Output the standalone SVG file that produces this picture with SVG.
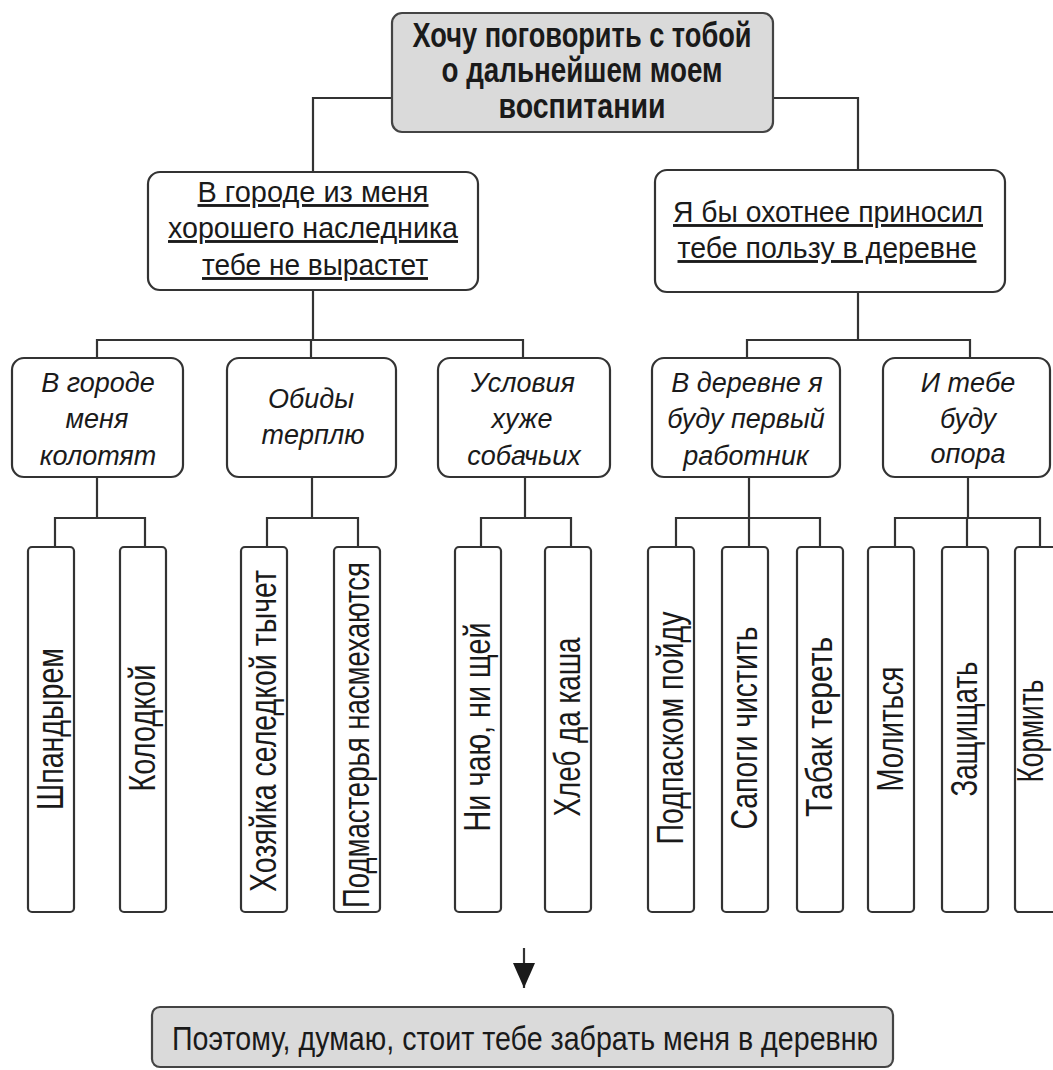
<svg xmlns="http://www.w3.org/2000/svg" width="1053" height="1070" viewBox="0 0 1053 1070">
<style>
.box{fill:#ffffff;stroke:#333333;stroke-width:2.2}
.gbox{fill:#dadada;stroke:#444444;stroke-width:2.2}
.leaf{fill:#ffffff;stroke:#333333;stroke-width:2.2}
.ln{fill:none;stroke:#333333;stroke-width:2.2}
text{font-family:"Liberation Sans","Arial",sans-serif;fill:#1a1a1a;text-anchor:middle}
.t0{font-size:30px;font-weight:bold}
.t1{font-size:27px;text-decoration:underline}
.t2{font-size:27px;font-style:italic}
.t3{font-size:33px}
.t4{font-size:29px}
</style>
<defs>
<marker id="ah" markerWidth="25" markerHeight="22" refX="25" refY="11" orient="auto" markerUnits="userSpaceOnUse" viewBox="0 0 25 22">
<path d="M0,0 L25,11 L0,22 Z" fill="#1a1a1a"/>
</marker>
</defs>

<g id="connectors">
<path class="ln" d="M392,98 H313 V172"/>
<path class="ln" d="M773,98 H858 V170"/>
<path class="ln" d="M313,290 V340 M97,358 V340 H523 V358 M311,340 V358"/>
<path class="ln" d="M858,292 V340 M747,358 V340 H970 V358"/>
<path class="ln" d="M97,477 V518 M55,547 V518 H145 V547"/>
<path class="ln" d="M312,477 V518 M267,547 V518 H358 V547"/>
<path class="ln" d="M525,477 V518 M481,547 V518 H571 V547"/>
<path class="ln" d="M749,477 V518 M676,547 V518 H820 V547 M749,518 V547"/>
<path class="ln" d="M968,477 V518 M895,547 V518 H1040 V547 M967,518 V547"/>
<line class="ln" x1="524" y1="948" x2="524" y2="988" marker-end="url(#ah)"/>
</g>

<g id="root">
<rect class="gbox" x="392" y="13" width="381" height="119" rx="10"/>
<text class="t0" transform="translate(582,47) scale(1,1.15)" textLength="339" lengthAdjust="spacingAndGlyphs">Хочу поговорить с тобой</text>
<text class="t0" transform="translate(582,82) scale(1,1.15)" textLength="281" lengthAdjust="spacingAndGlyphs">о дальнейшем моем</text>
<text class="t0" transform="translate(582,118) scale(1,1.15)" textLength="167" lengthAdjust="spacingAndGlyphs">воспитании</text>
</g>

<g id="city">
<rect class="box" x="148" y="172" width="330" height="118" rx="12"/>
<text class="t1" transform="translate(313,202) scale(1,1.06)" textLength="231" lengthAdjust="spacingAndGlyphs">В городе из меня</text>
<text class="t1" transform="translate(313,238) scale(1,1.06)" textLength="290" lengthAdjust="spacingAndGlyphs">хорошего наследника</text>
<text class="t1" transform="translate(315,275) scale(1,1.06)" textLength="226" lengthAdjust="spacingAndGlyphs">тебе не вырастет</text>
</g>

<g id="village">
<rect class="box" x="655" y="170" width="350" height="122" rx="12"/>
<text class="t1" transform="translate(828,222) scale(1,1.06)" textLength="310" lengthAdjust="spacingAndGlyphs">Я бы охотнее приносил</text>
<text class="t1" transform="translate(827,258) scale(1,1.06)" textLength="299" lengthAdjust="spacingAndGlyphs">тебе пользу в деревне</text>
</g>

<g id="beaten">
<rect class="box" x="12" y="358" width="171" height="119" rx="12"/>
<text class="t2" x="98" y="392">В городе</text>
<text class="t2" x="97" y="428">меня</text>
<text class="t2" x="98" y="465">колотят</text>
</g>

<g id="insults">
<rect class="box" x="227" y="358" width="169" height="119" rx="12"/>
<text class="t2" x="311" y="408">Обиды</text>
<text class="t2" x="313" y="444">терплю</text>
</g>

<g id="conditions">
<rect class="box" x="438" y="358" width="172" height="119" rx="12"/>
<text class="t2" x="523" y="392">Условия</text>
<text class="t2" x="522" y="428">хуже</text>
<text class="t2" x="524" y="465">собачьих</text>
</g>

<g id="worker">
<rect class="box" x="652" y="358" width="188" height="119" rx="12"/>
<text class="t2" x="747" y="392">В деревне я</text>
<text class="t2" x="746" y="428">буду первый</text>
<text class="t2" x="746" y="465">работник</text>
</g>

<g id="support">
<rect class="box" x="883" y="358" width="167" height="119" rx="12"/>
<text class="t2" x="968" y="392">И тебе</text>
<text class="t2" x="968" y="428">буду</text>
<text class="t2" x="968" y="463">опора</text>
</g>

<g id="leaf1"><rect class="leaf" x="28" y="547" width="46" height="365" rx="4"/>
<text class="t3" transform="translate(63,729) rotate(-90) scale(1,1.12)" textLength="162" lengthAdjust="spacingAndGlyphs">Шпандырем</text></g>
<g id="leaf2"><rect class="leaf" x="120" y="547" width="46" height="365" rx="4"/>
<text class="t3" transform="translate(155,728) rotate(-90) scale(1,1.12)" textLength="127" lengthAdjust="spacingAndGlyphs">Колодкой</text></g>
<g id="leaf3"><rect class="leaf" x="241" y="547" width="46" height="365" rx="4"/>
<text class="t3" transform="translate(276,731) rotate(-90) scale(1,1.12)" textLength="322" lengthAdjust="spacingAndGlyphs">Хозяйка селедкой тычет</text></g>
<g id="leaf4"><rect class="leaf" x="334" y="547" width="46" height="365" rx="4"/>
<text class="t3" transform="translate(369,735) rotate(-90) scale(1,1.12)" textLength="346" lengthAdjust="spacingAndGlyphs">Подмастерья насмехаются</text></g>
<g id="leaf5"><rect class="leaf" x="455" y="547" width="46" height="365" rx="4"/>
<text class="t3" transform="translate(490,727) rotate(-90) scale(1,1.12)" textLength="209" lengthAdjust="spacingAndGlyphs">Ни чаю, ни щей</text></g>
<g id="leaf6"><rect class="leaf" x="545" y="547" width="46" height="365" rx="4"/>
<text class="t3" transform="translate(580,727) rotate(-90) scale(1,1.12)" textLength="179" lengthAdjust="spacingAndGlyphs">Хлеб да каша</text></g>
<g id="leaf7"><rect class="leaf" x="648" y="547" width="46" height="365" rx="4"/>
<text class="t3" transform="translate(683,728) rotate(-90) scale(1,1.12)" textLength="233" lengthAdjust="spacingAndGlyphs">Подпаском пойду</text></g>
<g id="leaf8"><rect class="leaf" x="722" y="547" width="46" height="365" rx="4"/>
<text class="t3" transform="translate(757,728) rotate(-90) scale(1,1.12)" textLength="203" lengthAdjust="spacingAndGlyphs">Сапоги чистить</text></g>
<g id="leaf9"><rect class="leaf" x="797" y="547" width="46" height="365" rx="4"/>
<text class="t3" transform="translate(832,727) rotate(-90) scale(1,1.12)" textLength="180" lengthAdjust="spacingAndGlyphs">Табак тереть</text></g>
<g id="leaf10"><rect class="leaf" x="868" y="547" width="46" height="365" rx="4"/>
<text class="t3" transform="translate(903,729) rotate(-90) scale(1,1.12)" textLength="125" lengthAdjust="spacingAndGlyphs">Молиться</text></g>
<g id="leaf11"><rect class="leaf" x="942" y="547" width="46" height="365" rx="4"/>
<text class="t3" transform="translate(977,729) rotate(-90) scale(1,1.12)" textLength="135" lengthAdjust="spacingAndGlyphs">Защищать</text></g>
<g id="leaf12"><rect class="leaf" x="1015" y="547" width="46" height="365" rx="4"/>
<text class="t3" transform="translate(1043,731) rotate(-90) scale(1,1.12)" textLength="103" lengthAdjust="spacingAndGlyphs">Кормить</text></g>

<g id="conclusion">
<rect class="gbox" x="152" y="1007" width="741" height="60" rx="8"/>
<text class="t4" transform="translate(525,1050) scale(1,1.12)" textLength="706" lengthAdjust="spacingAndGlyphs">Поэтому, думаю, стоит тебе забрать меня в деревню</text>
</g>
</svg>
